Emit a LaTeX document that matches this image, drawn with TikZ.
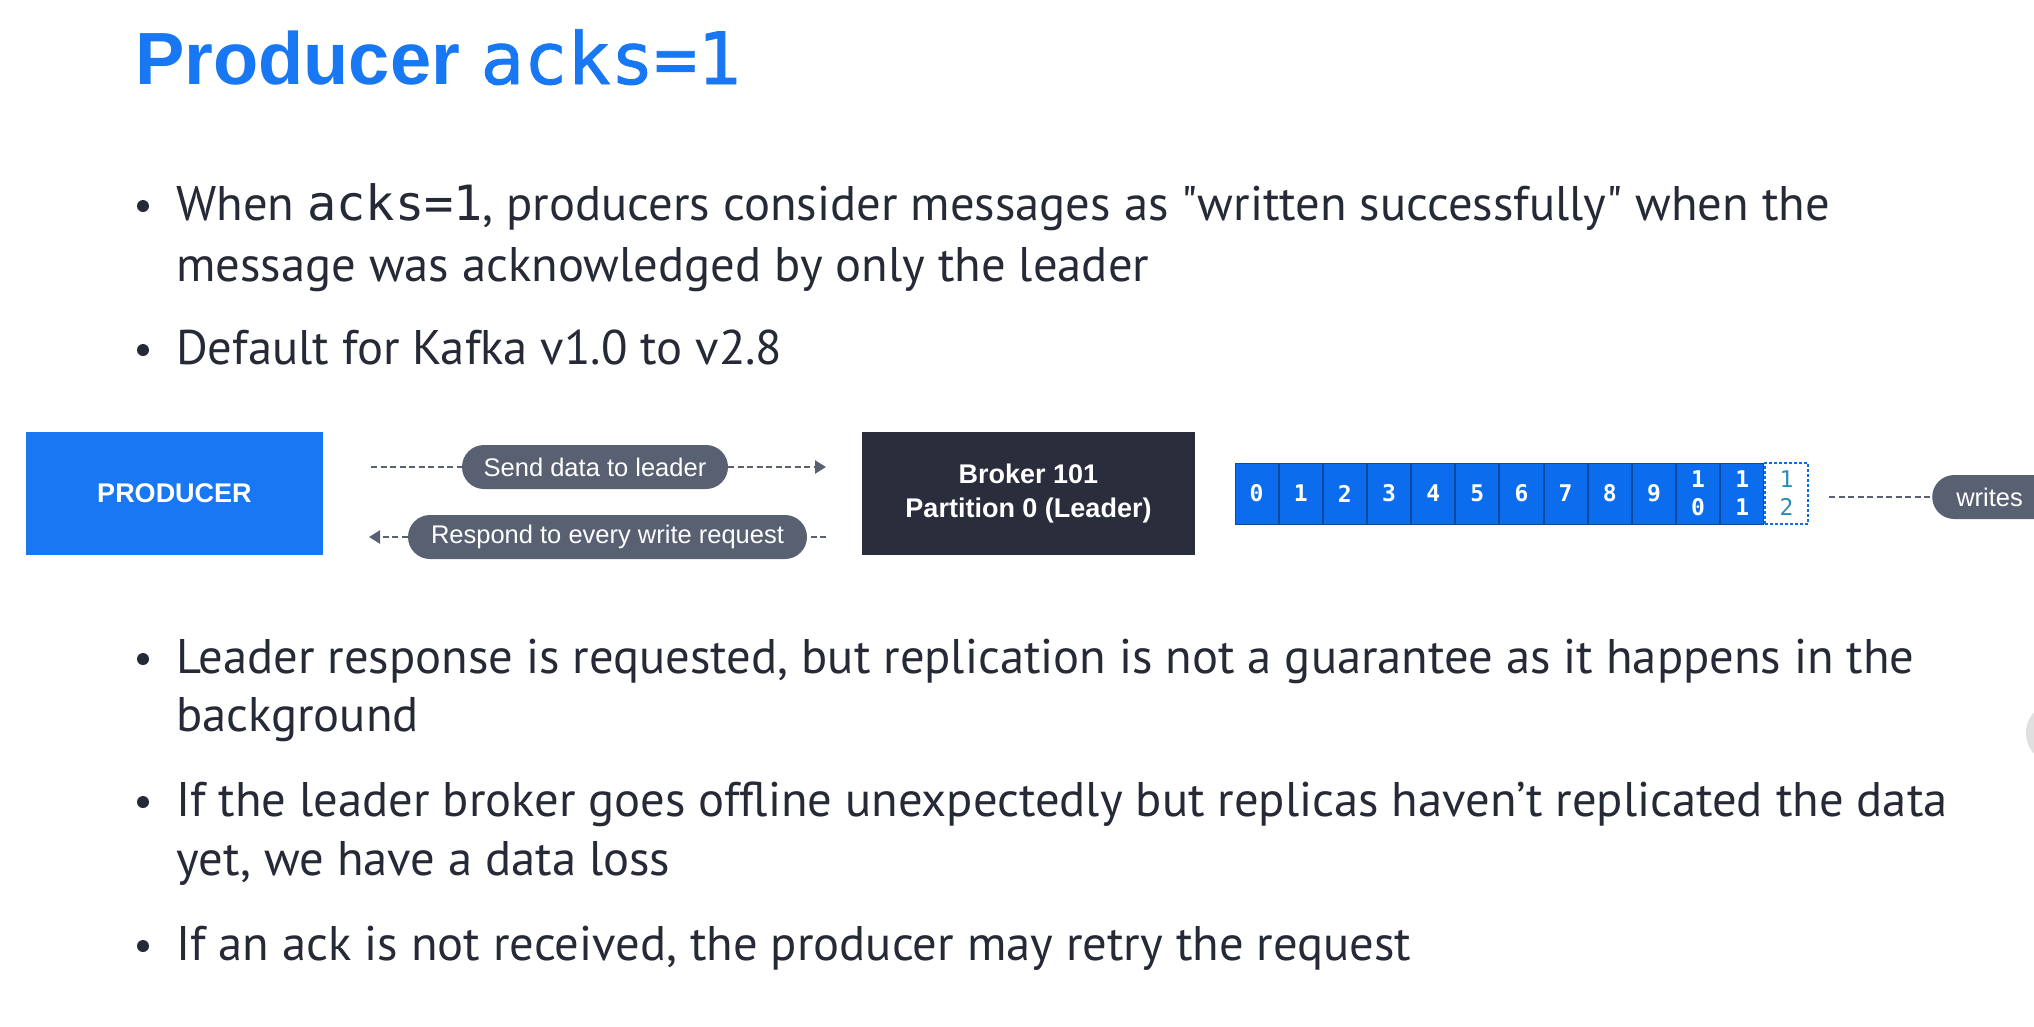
\documentclass[tikz,border=0pt]{standalone}
\usepackage{fontspec}
\setmainfont{PT Sans}[Ligatures=TeXOff]
\setsansfont{Liberation Sans}
\setmonofont{DejaVu Sans Mono}
\usetikzlibrary{positioning, arrows.meta, shapes.misc}

\definecolor{kblue}{RGB}{24,119,242}
\definecolor{cellblue}{RGB}{12,108,238}
\definecolor{celledge}{RGB}{14,72,160}
\definecolor{navy}{RGB}{42,46,60}
\definecolor{slate}{RGB}{88,96,114}
\definecolor{ink}{RGB}{38,42,54}
\definecolor{tealish}{RGB}{44,140,184}

\begin{document}
\begin{tikzpicture}[x=1pt,y=-1pt,node distance=0pt]
  \tikzstyle{box}=[inner sep=0pt, minimum height=123pt, text=white, align=center,
    font=\sffamily\bfseries\fontsize{27}{34}\selectfont]
  \tikzstyle{pill}=[rounded rectangle, fill=slate, text=white, minimum height=44pt,
    inner xsep=2pt, inner ysep=0pt, font=\sffamily\fontsize{25.5}{30}\selectfont]
  \tikzstyle{cell}=[draw=celledge, line width=1pt, fill=cellblue, minimum width=43.15pt,
    minimum height=61pt, inner sep=0pt, text=white, align=center,
    font=\ttfamily\bfseries\fontsize{23}{28}\selectfont]
  \tikzstyle{textline}=[anchor=base west, inner sep=0pt, text=ink,
    font=\fontsize{48.6}{56}\selectfont]
  \tikzstyle{bullet}=[circle, fill=ink, inner sep=0pt, minimum size=12pt]
  \tikzstyle{flow}=[draw=slate, line width=2.4pt, dash pattern=on 6pt off 3.5pt]

  \fill[white] (0,0) rectangle (2034,1026);
  \useasboundingbox (0,0) rectangle (2034,1026);

  % title
  \node[anchor=base west, inner sep=0pt, text=kblue] (title) at (135,84)
    {\sffamily\bfseries\fontsize{74}{80}\selectfont Producer
     \ttfamily\mdseries\fontsize{72}{80}\selectfont\addfontfeatures{FakeBold=1.2}acks=1};

  % bullets above the diagram
  \node[textline] (l_1) at (176,220) {When {\ttfamily acks=1}, producers consider messages as "written successfully" when the};
  \node[textline] (l_2) at (176,281) {message was acknowledged by only the leader};
  \node[textline] (l_3) at (176,364) {Default for Kafka v1.0 to v2.8};
  \node[bullet] at (143,206) {};
  \node[bullet] at (143,350) {};

  % diagram
  \node[box, fill=kblue, minimum width=297pt] (prod) at (174.5,493.5) {PRODUCER};
  \node[box, fill=navy, minimum width=333pt] (broker) at (1028.5,493.5) {Broker 101\\Partition 0 (Leader)};

  \node[pill, minimum width=270pt] (send) at (595,467) {Send data to leader};
  \node[pill, minimum width=403pt] (resp) at (607.5,537) {Respond to every write request};

  \coordinate (s_in) at (371,467);
  \coordinate (s_out) at (826,467);
  \coordinate (r_in) at (826,537);
  \coordinate (r_out) at (369,537);

  \draw[flow] (s_in) -- (send.west);
  \draw[flow, -{Triangle[length=11pt,width=13pt]}] (send.east) -- (s_out);
  \draw[flow] (r_in) -- (resp.east);
  \draw[flow, -{Triangle[length=11pt,width=13pt]}] (resp.west) -- (r_out);

  % log of the partition
  \node[cell] (c_0) at (1256.6,493.5) {0};
  \foreach \i [remember=\i as \j (initially 0)] in {1,...,9}
    \node[cell, right=0pt of c_\j] (c_\i) {\i};
  \node[cell, right=0pt of c_9] (c_10) {1\\0};
  \node[cell, right=0pt of c_10] (c_11) {1\\1};
  \node[cell, right=0pt of c_11, fill=white, draw=cellblue, dash pattern=on 3pt off 2pt,
    line width=1.4pt, text=tealish, font=\ttfamily\fontsize{23}{28}\selectfont] (c_12) {1\\2};

  \node[pill, anchor=west, inner xsep=22pt, text width=150pt, align=left] (writes) at (1932,497) {writes};
  \coordinate (w_in) at (1829,497);
  \draw[flow] (w_in) -- (writes.west);

  % bullets below the diagram
  \node[textline] (l_4) at (176,673) {Leader response is requested, but replication is not a guarantee as it happens in the};
  \node[textline] (l_5) at (176,731) {background};
  \node[textline] (l_6) at (176,816) {If the leader broker goes offline unexpectedly but replicas haven’t replicated the data};
  \node[textline] (l_7) at (176,875) {yet, we have a data loss};
  \node[textline] (l_8) at (176,960) {If an ack is not received, the producer may retry the request};
  \node[bullet] at (143,659) {};
  \node[bullet] at (143,802) {};
  \node[bullet] at (143,946) {};

  % side handle
  \fill[black!12] (2057,733) circle (31pt);
\end{tikzpicture}
\end{document}
